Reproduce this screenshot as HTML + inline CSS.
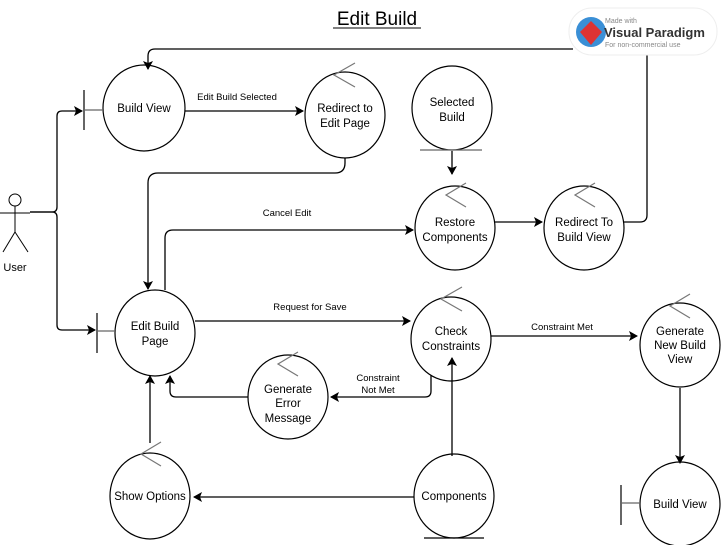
<!DOCTYPE html>
<html><head><meta charset="utf-8"><style>
html,body{margin:0;padding:0;background:#fff;}
svg{display:block;font-family:"Liberation Sans",Arial,sans-serif;}
</style></head><body>
<svg width="722" height="545" viewBox="0 0 722 545" xmlns="http://www.w3.org/2000/svg">
<defs>
<marker id="a" markerWidth="10" markerHeight="10" refX="8" refY="5" orient="auto" markerUnits="userSpaceOnUse">
<path d="M0,0 L9,5 L0,10 L2,5 Z" fill="#000"/></marker>
</defs>
<text x="377" y="25" font-size="19" text-anchor="middle">Edit Build</text>
<line x1="333" y1="28" x2="421" y2="28" stroke="#000" stroke-width="1"/>

<!-- ellipses -->
<g fill="#fff" stroke="#000" stroke-width="1.2">
<ellipse cx="144" cy="108" rx="41" ry="43"/>
<ellipse cx="345" cy="115" rx="40" ry="43"/>
<ellipse cx="452" cy="108" rx="40" ry="42"/>
<ellipse cx="455" cy="228" rx="40" ry="42"/>
<ellipse cx="584" cy="228" rx="40" ry="42"/>
<ellipse cx="155" cy="333" rx="40" ry="43"/>
<ellipse cx="451" cy="339" rx="40" ry="42"/>
<ellipse cx="680" cy="345" rx="40" ry="42"/>
<ellipse cx="288" cy="397" rx="40" ry="42"/>
<ellipse cx="150" cy="496" rx="40" ry="43"/>
<ellipse cx="454" cy="496" rx="40" ry="42"/>
<ellipse cx="680" cy="504" rx="40" ry="42"/>
</g>

<g fill="none" stroke="#000" stroke-width="1.3">
<path d="M30,212 H52 Q57,212 57,207 V116 Q57,111 62,111 H82" marker-end="url(#a)"/>
<path d="M30,212 H52 Q57,212 57,217 V325 Q57,330 62,330 H95" marker-end="url(#a)"/>
<path d="M185,111 H303" marker-end="url(#a)"/>
<path d="M345,158 V163 Q345,173 335,173 H158 Q148,173 148,183 V289" marker-end="url(#a)"/>
<path d="M165,290 V238 Q165,230 173,230 H413" marker-end="url(#a)"/>
<path d="M452,151 V174" marker-end="url(#a)"/>
<path d="M495,222 H542" marker-end="url(#a)"/>
<path d="M624,222 H640 Q647,222 647,215 V55"/>
<path d="M573,49 H155 Q148,49 148,56 V69" marker-end="url(#a)"/>
<path d="M195,321 H410" marker-end="url(#a)"/>
<path d="M491,336 H637" marker-end="url(#a)"/>
<path d="M431,375 V391 Q431,397 425,397 H331" marker-end="url(#a)"/>
<path d="M248,397 H176 Q170,397 170,391 V376" marker-end="url(#a)"/>
<path d="M150,443 V376" marker-end="url(#a)"/>
<path d="M452,456 V358" marker-end="url(#a)"/>
<path d="M414,497 H194" marker-end="url(#a)"/>
<path d="M680,388 V463" marker-end="url(#a)"/>
</g>

<!-- actor -->
<g fill="none" stroke="#000" stroke-width="1">
<circle cx="15" cy="200" r="6"/>
<line x1="15" y1="206" x2="15" y2="232"/>
<line x1="0" y1="213" x2="30" y2="213"/>
<line x1="15" y1="232" x2="3" y2="252"/>
<line x1="15" y1="232" x2="28" y2="252"/>
</g>
<text x="15" y="271" font-size="11" text-anchor="middle">User</text>

<!-- boundary bars -->
<g stroke="#000" stroke-width="1.2">
<line x1="84" y1="90" x2="84" y2="130"/><line x1="84" y1="110" x2="103" y2="110" stroke="#666"/>
<line x1="97" y1="313" x2="97" y2="353"/><line x1="97" y1="331" x2="115" y2="331" stroke="#666"/>
<line x1="621" y1="485" x2="621" y2="525"/><line x1="621" y1="503" x2="640" y2="503" stroke="#666"/>
<line x1="420" y1="150" x2="482" y2="150" stroke="#666"/>
<line x1="424" y1="538" x2="484" y2="538"/>
</g>
<!-- controller chevrons -->
<g fill="none" stroke="#777" stroke-width="1.2">
<path d="M355,63 L334,75 L355,87"/>
<path d="M466,183 L446,195 L466,207"/>
<path d="M595,183 L575,195 L595,207"/>
<path d="M462,287 L441,299 L462,311"/>
<path d="M690,294 L670,306 L690,318"/>
<path d="M298,352 L278,364 L298,376"/>
<path d="M161,442 L141,454 L161,466"/>
</g>

<g font-size="11.5" text-anchor="middle" fill="#000">
<text x="144" y="112">Build View</text>
<text x="345" y="112">Redirect to</text><text x="345" y="127">Edit Page</text>
<text x="452" y="106">Selected</text><text x="452" y="121">Build</text>
<text x="455" y="226">Restore</text><text x="455" y="241">Components</text>
<text x="584" y="226">Redirect To</text><text x="584" y="241">Build View</text>
<text x="155" y="330">Edit Build</text><text x="155" y="345">Page</text>
<text x="451" y="335">Check</text><text x="451" y="350">Constraints</text>
<text x="680" y="335">Generate</text><text x="680" y="349">New Build</text><text x="680" y="363">View</text>
<text x="288" y="393">Generate</text><text x="288" y="407">Error</text><text x="288" y="422">Message</text>
<text x="150" y="500">Show Options</text>
<text x="454" y="500">Components</text>
<text x="680" y="508">Build View</text>
</g>
<g font-size="9.5" text-anchor="middle" fill="#000">
<text x="237" y="100">Edit Build Selected</text>
<text x="287" y="216">Cancel Edit</text>
<text x="310" y="310">Request for Save</text>
<text x="562" y="330">Constraint Met</text>
<text x="378" y="381">Constraint</text><text x="378" y="393">Not Met</text>
</g>

<!-- logo -->
<rect x="569" y="8" width="148" height="47" rx="23" fill="#fff" stroke="#eee"/>
<circle cx="591" cy="32" r="15" fill="#3a8fd6"/>
<path d="M591,21 L602,32 L591,45 L580,32 Z" fill="#d33"/>
<text x="605" y="23" font-size="7" fill="#888">Made with</text>
<text x="604" y="37" font-size="13" font-weight="bold" fill="#333">Visual Paradigm</text>
<text x="605" y="47" font-size="7" fill="#888">For non-commercial use</text>
</svg>
</body></html>
